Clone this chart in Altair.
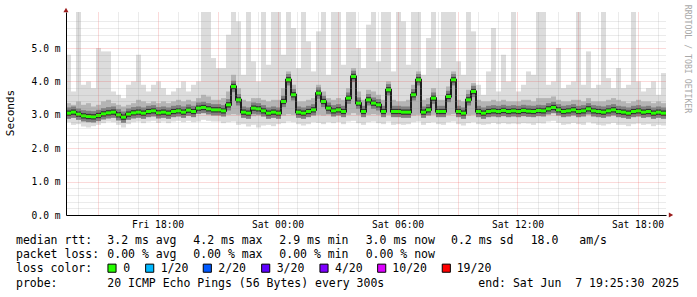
import altair as alt
import pandas as pd

# ---------------- data ----------------
# 120 steps of 15 minutes, Fri 2025-06-06 13:25:30 -> Sat 2025-06-07 19:25:30 (UTC)
med = [
    3.05, 3.08, 3.02, 2.97, 2.95, 2.94, 2.98, 3.03, 3.06, 3.08,
    3.00, 2.93, 3.02, 3.06, 3.08, 3.05, 3.10, 3.12, 3.06, 3.08,
    3.05, 3.10, 3.12, 3.08, 3.14, 3.10, 3.20, 3.22, 3.18, 3.15,
    3.15, 3.12, 3.30, 3.85, 3.45, 3.08, 3.05, 3.20, 3.18, 3.12,
    3.05, 3.08, 3.05, 3.40, 4.05, 3.60, 3.08, 3.05, 3.10, 3.15,
    3.65, 3.40, 3.20, 3.12, 3.15, 3.10, 3.50, 4.15, 3.35, 3.10,
    3.45, 3.35, 3.30, 3.10, 3.75, 3.10, 3.10, 3.08, 3.08, 3.60,
    4.05, 3.08, 3.15, 3.50, 3.10, 3.10, 3.55, 4.05, 3.10, 3.05,
    3.45, 3.70, 3.10, 3.05, 3.10, 3.12, 3.10, 3.13, 3.10, 3.12,
    3.10, 3.13, 3.11, 3.10, 3.13, 3.12, 3.18, 3.22, 3.15, 3.10,
    3.12, 3.15, 3.10, 3.12, 3.18, 3.12, 3.10, 3.08, 3.12, 3.15,
    3.10, 3.08, 3.05, 3.10, 3.12, 3.08, 3.10, 3.05, 3.08, 3.05,
]
hi = [
    4.8, 3.7, 6.1, 3.9, 4.0, 3.8, 5.0, 4.9, 4.9, 3.7,
    3.6, 3.5, 3.9, 4.0, 4.8, 3.9, 3.7, 3.9, 4.0, 3.8,
    3.6, 3.7, 3.8, 4.0, 3.7, 3.9, 4.0, 6.1, 6.1, 4.7,
    4.4, 4.4, 5.4, 6.1, 5.8, 4.2, 6.1, 4.6, 4.0, 6.1,
    4.5, 6.1, 6.1, 4.8, 6.1, 5.6, 4.4, 6.1, 5.2, 4.3,
    5.5, 6.1, 4.2, 6.1, 6.1, 4.5, 6.1, 6.1, 5.0, 4.4,
    5.7, 6.1, 4.6, 6.1, 6.1, 4.3, 6.1, 5.8, 4.5, 6.1,
    6.1, 4.2, 5.3, 6.1, 4.4, 6.1, 6.1, 6.1, 4.6, 4.2,
    6.1, 5.5, 3.9, 3.6, 4.3, 5.6, 3.7, 4.8, 4.0, 6.1,
    3.7, 3.9, 4.3, 4.2, 6.1, 6.1, 3.9, 4.0, 5.0, 3.8,
    3.9, 4.0, 6.1, 3.9, 4.9, 3.8, 3.9, 6.1, 4.1, 3.8,
    4.4, 3.8, 3.9, 6.1, 4.0, 3.7, 3.8, 4.0, 3.6, 4.25,
]
p75 = [
    3.35, 3.30, 3.40, 3.30, 3.35, 3.25, 3.30, 3.40, 3.45, 3.35,
    3.30, 3.25, 3.30, 3.35, 3.45, 3.40, 3.35, 3.40, 3.35, 3.40,
    3.35, 3.40, 3.45, 3.40, 3.45, 3.40, 3.50, 3.60, 3.55, 3.45,
    3.45, 3.50, 3.70, 4.20, 3.80, 3.45, 3.40, 3.50, 3.50, 3.45,
    3.40, 3.45, 3.45, 3.80, 4.30, 3.90, 3.40, 3.40, 3.45, 3.50,
    3.90, 3.70, 3.50, 3.45, 3.50, 3.45, 3.80, 4.40, 3.70, 3.45,
    3.75, 3.70, 3.60, 3.45, 4.00, 3.45, 3.40, 3.40, 3.45, 3.90,
    4.30, 3.45, 3.50, 3.80, 3.45, 3.45, 3.85, 4.30, 3.45, 3.40,
    3.75, 3.95, 3.45, 3.40, 3.40, 3.45, 3.40, 3.45, 3.40, 3.40,
    3.40, 3.45, 3.45, 3.40, 3.50, 3.50, 3.50, 3.55, 3.45, 3.40,
    3.40, 3.45, 3.45, 3.40, 3.50, 3.40, 3.40, 3.40, 3.45, 3.50,
    3.45, 3.40, 3.35, 3.40, 3.45, 3.40, 3.40, 3.35, 3.40, 3.35,
]
p25 = [
    2.90, 2.92, 2.88, 2.85, 2.84, 2.83, 2.86, 2.90, 2.93, 2.95,
    2.88, 2.82, 2.90, 2.93, 2.95, 2.92, 2.96, 2.98, 2.93, 2.95,
    2.92, 2.96, 2.98, 2.95, 3.00, 2.96, 3.02, 3.05, 3.02, 3.00,
    3.00, 2.98, 3.00, 3.02, 3.00, 2.95, 2.92, 2.96, 2.98, 2.96,
    2.92, 2.94, 2.92, 2.98, 3.02, 3.00, 2.94, 2.92, 2.96, 3.00,
    3.00, 2.98, 3.00, 2.98, 3.00, 2.96, 3.00, 3.05, 3.00, 2.96,
    3.00, 3.02, 3.00, 2.96, 3.00, 2.96, 2.95, 2.94, 2.95, 2.98,
    3.00, 2.95, 3.00, 3.00, 2.96, 2.96, 3.00, 3.02, 2.96, 2.92,
    2.98, 3.00, 2.96, 2.92, 2.95, 2.98, 2.96, 2.98, 2.96, 2.97,
    2.96, 2.98, 2.97, 2.96, 2.98, 2.97, 3.02, 3.05, 3.00, 2.96,
    2.97, 3.00, 2.96, 2.97, 3.02, 2.98, 2.96, 2.94, 2.97, 3.00,
    2.96, 2.94, 2.92, 2.96, 2.98, 2.94, 2.96, 2.92, 2.95, 2.92,
]
lo = [
    2.78, 2.70, 2.72, 2.65, 2.62, 2.66, 2.70, 2.75, 2.80, 2.78,
    2.70, 2.62, 2.72, 2.78, 2.80, 2.75, 2.80, 2.82, 2.76, 2.80,
    2.75, 2.80, 2.82, 2.78, 2.82, 2.78, 2.80, 2.85, 2.82, 2.80,
    2.80, 2.75, 2.78, 2.80, 2.70, 2.72, 2.65, 2.70, 2.62, 2.68,
    2.70, 2.66, 2.72, 2.75, 2.80, 2.78, 2.72, 2.68, 2.72, 2.78,
    2.76, 2.72, 2.78, 2.75, 2.78, 2.72, 2.80, 2.82, 2.75, 2.70,
    2.78, 2.80, 2.75, 2.72, 2.80, 2.70, 2.72, 2.70, 2.72, 2.78,
    2.80, 2.70, 2.76, 2.78, 2.72, 2.70, 2.78, 2.80, 2.72, 2.68,
    2.75, 2.78, 2.72, 2.70, 2.72, 2.76, 2.72, 2.75, 2.72, 2.74,
    2.72, 2.75, 2.74, 2.70, 2.75, 2.74, 2.80, 2.82, 2.76, 2.70,
    2.72, 2.76, 2.72, 2.70, 2.78, 2.74, 2.70, 2.68, 2.72, 2.76,
    2.70, 2.70, 2.66, 2.72, 2.74, 2.70, 2.72, 2.66, 2.70, 2.68,
]

loss_labels = ["0", "1/20", "2/20", "3/20", "4/20", "10/20", "19/20"]
loss_colors = ["#26ff00", "#00b8ff", "#0059ff", "#5e00ff", "#7e00ff", "#dd00ff", "#ff0000"]

line1 = ["median rtt:", "3.2 ms avg", "4.2 ms max", "2.9 ms min", "3.0 ms now",
         "0.2 ms sd", "18.0", "am/s"]
line2 = ["packet loss:", "0.00 % avg", "0.00 % max", "0.00 % min", "0.00 % now"]
line3 = ["loss color:"]
line4 = ["probe:", "20 ICMP Echo Pings (56 Bytes) every 300s",
         "end: Sat Jun\u00a0\u00a07 19:25:30 2025"]

# ---------------- time axis ----------------
start = pd.Timestamp("2025-06-06 13:25:30")
end = pd.Timestamp("2025-06-07 19:25:30")
N = len(med)
fmt = "%Y-%m-%dT%H:%M:%SZ"
t0 = [(start + pd.Timedelta(minutes=15 * i)).strftime(fmt) for i in range(N)]
t1 = [(start + pd.Timedelta(minutes=15 * (i + 1))).strftime(fmt) for i in range(N)]

df = pd.DataFrame({"t0": t0, "t1": t1, "med": med, "hi": hi,
                   "p75": p75, "p25": p25, "lo": lo})
one = pd.DataFrame({"k": [0]})  # single row for decorations


def dt(ts):
    return alt.DateTime(year=ts.year, month=ts.month, date=ts.day,
                        hours=ts.hour, minutes=ts.minute, seconds=ts.second, utc=True)


hours = pd.date_range("2025-06-06 14:00", "2025-06-07 19:00", freq="h")
x_values = [dt(h) for h in hours]
y_values = [round(0.2 * k, 1) for k in range(30)]

MONO = "DejaVu Sans Mono"
MAJOR = "rgba(235,60,60,0.38)"
MINOR = "rgba(150,150,150,0.38)"

xaxis = alt.Axis(
    values=x_values, title=None, ticks=False, labelPadding=4,
    labelFont=MONO, labelFontSize=9.6, labelColor="#000",
    labelOverlap=False, labelFlush=False, labelBound=False,
    labelExpr="utchours(datum.value) % 6 == 0 ? utcFormat(datum.value, '%a %H:%M') : ''",
    gridColor={"condition": {"test": "utchours(datum.value) % 3 == 0", "value": MAJOR},
               "value": MINOR},
    gridDash=[1, 1], gridWidth=1, domainColor="#000", domainWidth=1, zindex=1,
)
yaxis = alt.Axis(
    values=y_values, title=None, ticks=False, labelPadding=6,
    labelFont=MONO, labelFontSize=9.6, labelColor="#000",
    labelOverlap=False, labelFlush=False, labelBound=False,
    labelExpr="abs(datum.value - round(datum.value)) < 0.001 ? format(datum.value, '.1f') + ' m' : ''",
    gridColor={"condition": {"test": "abs(datum.value - round(datum.value)) < 0.001", "value": MAJOR},
               "value": MINOR},
    gridDash=[1, 1], gridWidth=1, domainColor="#000", domainWidth=1, zindex=1,
)

xscale = alt.Scale(type="utc", domain=[dt(start), dt(end)])
yscale = alt.Scale(domain=[0, 6.08], nice=False, zero=True)

X = alt.X("t0:T", scale=xscale, axis=xaxis)
X2 = alt.X2("t1:T")


def band(lo_field, hi_field, color):
    return alt.Chart(df).mark_rect(color=color, clip=True).encode(
        x=X, x2=X2,
        y=alt.Y(f"{lo_field}:Q", scale=yscale, axis=yaxis),
        y2=alt.Y2(f"{hi_field}:Q"),
    )


def core(half, color):
    return alt.Chart(df).transform_calculate(
        a=f"datum.med - {half}", b=f"datum.med + {half}"
    ).mark_rect(color=color, clip=True).encode(
        x=X, x2=X2,
        y=alt.Y("a:Q", scale=yscale, axis=yaxis),
        y2=alt.Y2("b:Q"),
    )


step_line = alt.Chart(df).mark_line(
    interpolate="step-after", color="#1e1e1e", strokeWidth=2, clip=True
).encode(x=X, y=alt.Y("med:Q", scale=yscale, axis=yaxis))

layers = [
    band("lo", "hi", "#dcdcdc"),
    band("p25", "p75", "#b4b4b4"),
    core(0.17, "#7f7f7f"),
    core(0.08, "#333333"),
    step_line,
    core(0.045, loss_colors[0]),
]

# ---------------- decorations: arrows, titles, legend ----------------
OX, OY = 66, 12  # plot origin in the page


def txt(s, x, y, size=11.5, color="#000", angle=0, align="left", font=MONO):
    return alt.Chart(one).mark_text(
        text=s, font=font, fontSize=size, color=color, angle=angle,
        align=align, baseline="middle",
    ).encode(x=alt.value(x - OX), y=alt.value(y - OY))


layers.append(alt.Chart(one).mark_point(shape="triangle-up", filled=True, size=26,
                                        color="#9b1c1c", opacity=1)
              .encode(x=alt.value(0), y=alt.value(-2)))
layers.append(alt.Chart(one).mark_point(shape="triangle-right", filled=True, size=26,
                                        color="#9b1c1c", opacity=1)
              .encode(x=alt.value(605), y=alt.value(203)))

layers.append(txt("Seconds", 11, 113, size=11, angle=270, align="center"))
layers.append(txt("RRDTOOL / TOBI OETIKER", 687, 59, size=8.2, color="#a8a8a8",
                  angle=90, align="center"))

l1x = [16, 107.3, 193.3, 279.3, 365.7, 451, 530.7, 579.3]
for s, x in zip(line1, l1x):
    layers.append(txt(s, x, 241.3))
l2x = [16, 107.3, 193.3, 279.3, 365.7]
for s, x in zip(line2, l2x):
    layers.append(txt(s, x, 255.3))
layers.append(txt(line3[0], 16, 269.3))
box_x = [112, 149.7, 207.3, 265.7, 324, 381.7, 446.3]
lab_x = [123.3, 160.7, 218.3, 276.7, 335, 392.3, 456.7]
for lab, col, bx, lx in zip(loss_labels, loss_colors, box_x, lab_x):
    layers.append(alt.Chart(one).mark_square(size=66, fill=col, stroke="#000",
                                             strokeWidth=1, opacity=1)
                  .encode(x=alt.value(bx - OX), y=alt.value(268.2 - OY)))
    layers.append(txt(lab, lx, 269.3))
l4x = [16, 107.3, 478.3]
for s, x in zip(line4, l4x):
    layers.append(txt(s, x, 283.7))

chart = alt.layer(*layers).properties(
    width=600, height=203,
    autosize=alt.AutoSizeParams(type="none"),
    padding={"left": OX, "top": OY, "right": 31, "bottom": 82},
    background="#ffffff",
).configure_view(stroke=None)

chart.save("out.html", embed_options={"renderer": "svg", "actions": False})
